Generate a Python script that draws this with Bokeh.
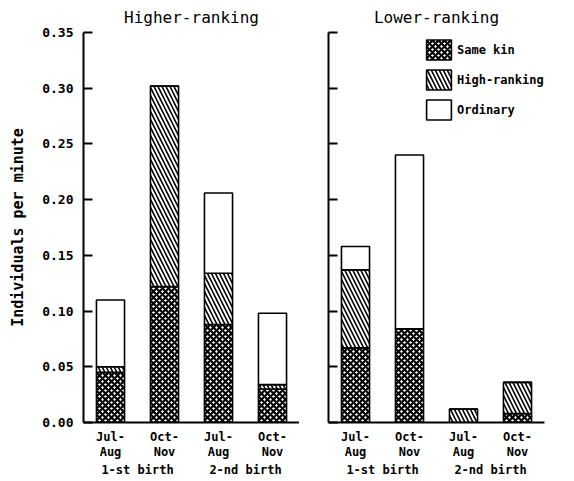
from bokeh.plotting import figure
from bokeh.layouts import row
from bokeh.models import (FactorRange, FixedTicker, NumeralTickFormatter, Legend,
                          LegendItem, ColumnDataSource, Range1d, CustomJSTickFormatter)
from bokeh.embed import file_html
from bokeh.resources import INLINE

births = ["1-st birth", "1-st birth", "2-nd birth", "2-nd birth"]
periods = ["Jul-\nAug", "Oct-\nNov", "Jul-\nAug", "Oct-\nNov"]
categories = ["Same kin", "High-ranking", "Ordinary"]
y_ticks = [0.0, 0.05, 0.10, 0.15, 0.20, 0.25, 0.30, 0.35]

# Higher-ranking mothers (stack segments)
hi_same_kin = [0.045, 0.122, 0.088, 0.030]
hi_high_ranking = [0.005, 0.180, 0.046, 0.004]
hi_ordinary = [0.060, 0.000, 0.072, 0.064]

# Lower-ranking mothers (stack segments)
lo_same_kin = [0.067, 0.084, 0.000, 0.008]
lo_high_ranking = [0.070, 0.000, 0.012, 0.028]
lo_ordinary = [0.021, 0.156, 0.000, 0.000]

FONT = "DejaVu Sans Mono"
factors = list(zip(births, periods))


def make_panel(title, sk, hr, od, show_labels, legend):
    src = ColumnDataSource(dict(x=factors, **{"Same kin": sk, "High-ranking": hr, "Ordinary": od}))
    xr = FactorRange(*factors, factor_padding=0, group_padding=0, subgroup_padding=0, range_padding=0)
    p = figure(x_range=xr, y_range=Range1d(0, 0.35), frame_width=216, frame_height=390,
               output_backend="svg", toolbar_location=None, title=title,
               min_border_left=83 if show_labels else 29,
               min_border_right=0 if show_labels else 28,
               min_border_top=0, min_border_bottom=0)
    rs = p.vbar_stack(categories, x="x", width=0.52, source=src,
                      fill_color="white", line_color="black", line_width=1.6,
                      hatch_pattern=["x", "\\", " "], hatch_color="black",
                      hatch_scale=[6, 8, 8], hatch_weight=[2.2, 1.6, 1])
    p.title.align = "center"
    p.title.text_font = FONT
    p.title.text_font_size = "16px"
    p.title.text_font_style = "normal"
    p.title.text_color = "black"
    p.title.standoff = 11
    p.outline_line_color = None
    p.xgrid.grid_line_color = None
    p.ygrid.grid_line_color = None

    ya = p.yaxis[0]
    ya.ticker = FixedTicker(ticks=y_ticks)
    ya.axis_line_width = 2
    ya.axis_line_color = "black"
    ya.major_tick_line_width = 2
    ya.major_tick_line_color = "black"
    ya.major_tick_in = 9
    ya.major_tick_out = 0
    ya.minor_tick_line_color = None
    ya.major_label_text_font = FONT
    ya.major_label_text_font_style = "bold"
    ya.major_label_text_color = "black"
    ya.major_label_text_font_size = "13px"
    ya.major_label_standoff = 10
    if show_labels:
        ya.formatter = NumeralTickFormatter(format="0.00")
        ya.axis_label = "Individuals per minute"
        ya.axis_label_text_font = FONT
        ya.axis_label_text_font_style = "bold"
        ya.axis_label_text_color = "black"
        ya.axis_label_text_font_size = "15px"
        ya.axis_label_standoff = 12
    else:
        ya.formatter = CustomJSTickFormatter(code="return '';")
        ya.major_label_standoff = 0

    xa = p.xaxis[0]
    xa.axis_line_width = 2
    xa.axis_line_color = "black"
    xa.major_tick_line_color = None
    xa.minor_tick_line_color = None
    xa.separator_line_color = None
    xa.major_label_text_font = FONT
    xa.major_label_text_font_style = "bold"
    xa.major_label_text_color = "black"
    xa.major_label_text_font_size = "12px"
    xa.major_label_text_line_height = 1.1
    xa.major_label_standoff = 1
    xa.group_text_font = FONT
    xa.group_text_font_style = "bold"
    xa.group_text_font_size = "12px"
    xa.group_text_color = "black"

    if legend:
        items = [LegendItem(label=c, renderers=[r]) for c, r in zip(categories, rs)]
        lg = Legend(items=items, location=(95, 300), padding=0, margin=0, spacing=5,
                    glyph_width=31, glyph_height=25, border_line_color=None,
                    background_fill_alpha=0, label_text_font=FONT,
                    label_text_font_style="bold", label_text_font_size="12px",
                    label_text_color="black", label_standoff=3)
        p.add_layout(lg, "center")
    return p


p1 = make_panel("Higher-ranking", hi_same_kin, hi_high_ranking, hi_ordinary, True, False)
p2 = make_panel("Lower-ranking", lo_same_kin, lo_high_ranking, lo_ordinary, False, True)
layout = row(p1, p2)

open("out.html", "w").write(file_html(layout, INLINE))
